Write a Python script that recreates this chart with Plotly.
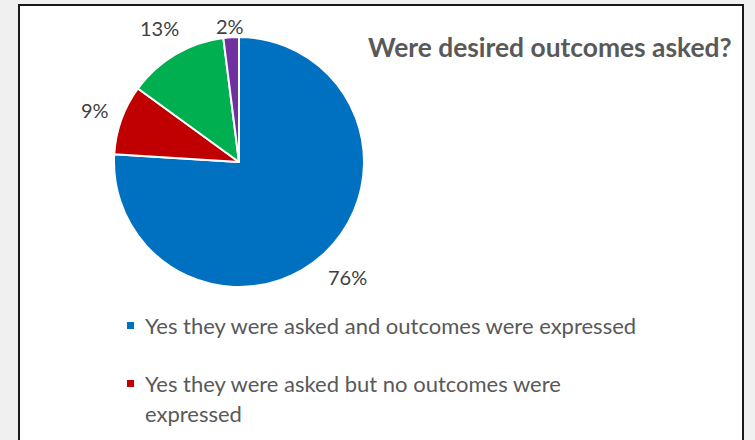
import math
import plotly.graph_objects as go

labels = [
    "Yes they were asked and outcomes were expressed",
    "Yes they were asked but no outcomes were<br>expressed",
    "No they were not asked",
    "Not recorded",
]
values = [76, 9, 13, 2]
colors = ["#0070C0", "#C00000", "#00B050", "#7030A0"]
title_text = "Were desired outcomes asked?"

W, H = 755, 440
FONT = "Lato"
TXT = "#595959"

# pie geometry (pixels)
CX, CY, R = 239, 162, 125

fig = go.Figure()
fig.add_trace(go.Pie(
    labels=[l.replace("<br>", " ") for l in labels],
    values=values,
    sort=False,
    direction="clockwise",
    rotation=0,
    marker=dict(colors=colors, line=dict(color="white", width=2)),
    textinfo="none",
    domain=dict(x=[(CX - R) / W, (CX + R) / W], y=[1 - (CY + R) / H, 1 - (CY - R) / H]),
    showlegend=False,
    hoverinfo="label+percent",
))

shapes = [
    dict(type="rect", xref="paper", yref="paper", x0=19 / W, x1=743 / W,
         y0=-0.2, y1=1 - 5 / H, fillcolor="white",
         line=dict(color="#1a1a1a", width=2), layer="below"),
]
annotations = [
    dict(text="<b>" + title_text + "</b>", xref="paper", yref="paper",
         x=550 / W, y=1 - 47 / H, xanchor="center", yanchor="middle",
         showarrow=False, font=dict(family=FONT, size=26.4, color=TXT)),
]

# percentage labels placed outside each slice, from the data
total = sum(values)
cum = 0
LFS = 20
GAP = 12
for v in values:
    mid = (cum + v / 2) / total * 2 * math.pi
    cum += v
    ux, uy = math.sin(mid), -math.cos(mid)  # screen coords, y down
    txt = f"{round(v / total * 100)}%"
    hw, hh = 0.333 * LFS * len(txt), 10
    d = R + GAP + hw * abs(ux) + hh * abs(uy)
    px = CX + d * ux
    py = max(CY + d * uy, 26)
    annotations.append(dict(text=txt, xref="paper", yref="paper",
                            x=px / W, y=1 - py / H, xanchor="center", yanchor="middle",
                            showarrow=False, font=dict(family=FONT, size=LFS, color="#404040")))

# manual legend below the pie
row_y = 325
for lab, col in zip(labels, colors):
    lines = lab.split("<br>")
    if row_y + 30 * (len(lines) - 1) + 12 > H:
        break
    shapes.append(dict(type="rect", xref="paper", yref="paper",
                       x0=127 / W, x1=134 / W,
                       y0=1 - (row_y + 4) / H, y1=1 - (row_y - 3) / H,
                       fillcolor=col, line=dict(width=0)))
    for k, ln in enumerate(lines):
        annotations.append(dict(text=ln, xref="paper", yref="paper",
                                x=143 / W, y=1 - (row_y + 30 * k) / H,
                                xanchor="left", yanchor="middle", showarrow=False,
                                font=dict(family=FONT, size=22, color=TXT)))
    row_y += 30 * len(lines) + 28

fig.update_layout(
    width=W, height=H,
    margin=dict(l=0, r=0, t=0, b=0),
    paper_bgcolor="#f0f0f0",
    plot_bgcolor="#f0f0f0",
    shapes=shapes,
    annotations=annotations,
    font=dict(family=FONT),
)

fig.write_html("out.html", config={"displayModeBar": False},
               post_script="document.body.style.margin='0';document.body.style.overflow='hidden';")
